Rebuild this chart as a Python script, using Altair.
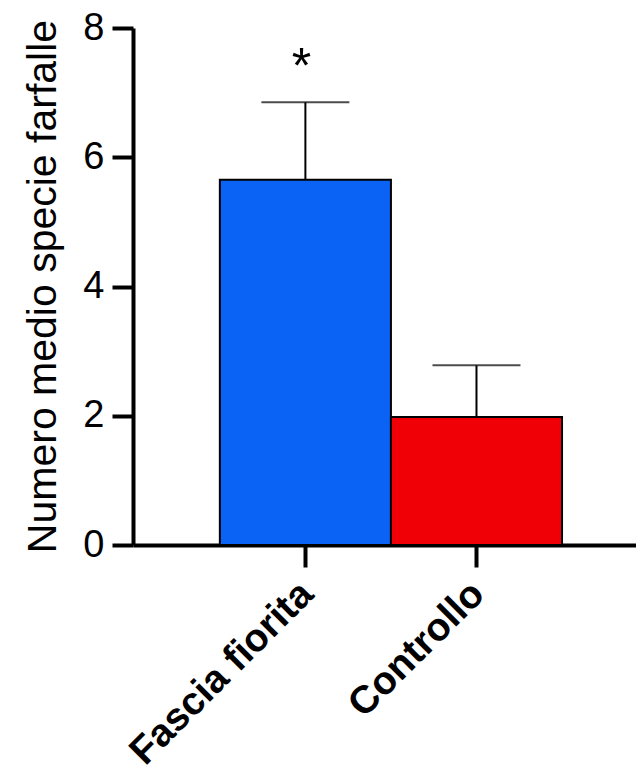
import altair as alt
import pandas as pd

categories = ["Fascia fiorita", "Controllo"]
means = [5.65, 1.98]
errors = [1.2, 0.8]
bar_colors = ["#0B63F6", "#F00006"]
annotations = ["*", ""]

df = pd.DataFrame({
    "cat": categories,
    "mean": means,
    "err": errors,
    "color": bar_colors,
    "star": annotations,
})
df["upper"] = df["mean"] + df["err"]

FONT = "Liberation Sans"

xscale = alt.Scale(domain=categories, paddingInner=0, paddingOuter=0.47, align=0.54)
x = alt.X("cat:N", scale=xscale, sort=categories, title=None,
          axis=alt.Axis(labelAngle=-45, labelAlign="right", labelBaseline="top",
                        labelFont=FONT, labelFontSize=39, labelFontWeight="bold",
                        labelColor="black", labelPadding=7, labelOffset=-12,
                        domainColor="black", domainWidth=4,
                        tickColor="black", tickWidth=4, tickSize=22,
                        labelLimit=0))
yscale = alt.Scale(domain=[0, 8], nice=False)
y = alt.Y("mean:Q", scale=yscale,
          title="Numero medio specie farfalle",
          axis=alt.Axis(values=[0, 2, 4, 6, 8], format="d", grid=False,
                        labelFont=FONT, labelFontSize=38, labelColor="black",
                        labelPadding=8,
                        titleFont=FONT, titleFontSize=41, titleFontWeight="normal",
                        titleColor="black", titleAngle=270, titleAlign="center",
                        titleBaseline="alphabetic", titleX=-78, titleY=258,
                        domainColor="black", domainWidth=4,
                        tickColor="black", tickWidth=4, tickSize=21))

base = alt.Chart(df)

bars = base.mark_bar(stroke="black", strokeWidth=2).encode(
    x=x, y=y,
    color=alt.Color("color:N", scale=None),
)

err_line = base.mark_rule(color="black", strokeWidth=2).encode(
    x=alt.X("cat:N", scale=xscale, sort=categories),
    y=alt.Y("mean:Q", scale=yscale),
    y2="upper:Q",
)

caps = base.mark_tick(color="black", thickness=2, size=88, orient="horizontal").encode(
    x=alt.X("cat:N", scale=xscale, sort=categories),
    y=alt.Y("upper:Q", scale=yscale),
)

stars = base.mark_text(font=FONT, fontSize=50, color="black", baseline="alphabetic",
                       align="center", dx=-4, dy=-19).encode(
    x=alt.X("cat:N", scale=xscale, sort=categories),
    y=alt.Y("upper:Q", scale=yscale),
    text="star:N",
)

chart = alt.layer(bars, err_line, caps, stars).properties(
    width=503, height=517,
    background="white",
    autosize=alt.AutoSizeParams(type="none"),
    padding={"left": 133, "top": 28, "right": 0, "bottom": 227},
).configure_view(stroke="transparent", strokeWidth=0)

chart.save("out.html", embed_options={"renderer": "svg", "actions": False})
